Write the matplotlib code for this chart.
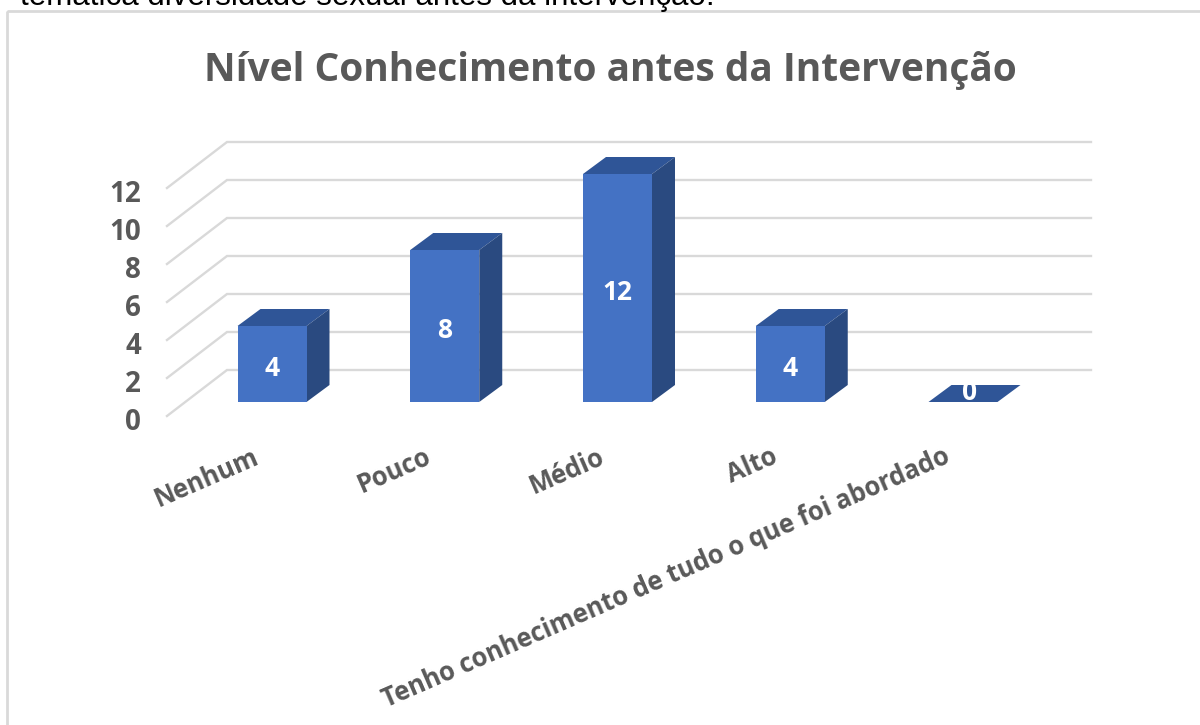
import matplotlib
matplotlib.use("Agg")
import matplotlib.pyplot as plt
from matplotlib.patches import Polygon, Rectangle

categories = ["Nenhum", "Pouco", "Médio", "Alto", "Tenho conhecimento de tudo o que foi abordado"]
values = [4, 8, 12, 4, 0]
y_ticks = [0, 2, 4, 6, 8, 10, 12]
title = "Nível Conhecimento antes da Intervenção"
caption = "temática diversidade sexual antes da intervenção."

W, H = 1200, 725
GRAY = "#595959"
FRONT, TOP, SIDE = "#4472C4", "#2F5597", "#2A4A80"
GRID = "#D9D9D9"
FONT = "Open Sans"

# scale: one category = 172.75 px, one value unit = 19 px; category 0 at x=272, value 0 at y=402
PX, PY = 172.75, 19.0
X0, Y0 = 272.0, 402.0
fig = plt.figure(figsize=(W / 100, H / 100), dpi=100)
ax = fig.add_axes([0, 0, 1, 1])
ax.set_xlim(-X0 / PX, (W - X0) / PX)
ax.set_ylim(-(H - Y0) / PY, Y0 / PY)
ax.axis("off")

def dx(p): return p / PX
def dy(p): return p / PY

# outer frame
ax.add_patch(Rectangle((dx(6.5 - X0), dy(Y0 - 10.5)), dx(1400), -dy(900), fill=False,
                       ec="#D9D9D9", lw=2.0, zorder=1))

# gridlines: back wall + receding floor/side diagonal
wall_rise = dy(32)
right = dx(1091 - X0)
back_x = dx(227 - X0)
front_x = dx(167 - X0)
front_drop = dy(46)
for v in y_ticks:
    yb = v + wall_rise
    ax.plot([front_x, back_x, right], [yb - front_drop, yb, yb], color=GRID, lw=1.7,
            solid_joinstyle="miter", zorder=2)
    ax.text(dx(141 - X0), yb - front_drop - dy(6), str(v), ha="right", va="center",
            fontsize=20, fontweight="bold", color=GRAY, family=FONT, zorder=6)

# 3D columns
half = dx(34.5)
ox, oy = dx(23), dy(17)
for i, (c, v) in enumerate(zip(categories, values)):
    l, r = i - half, i + half
    top = Polygon([(l, v), (r, v), (r + ox, v + oy), (l + ox, v + oy)], fc=TOP, ec="none", zorder=3)
    ax.add_patch(top)
    if v > 0:
        ax.add_patch(Polygon([(r, 0), (r + ox, oy), (r + ox, v + oy), (r, v)], fc=SIDE, ec="none", zorder=3))
        ax.add_patch(Rectangle((l, 0), r - l, v, fc=FRONT, ec="none", zorder=4))
    lab = ax.text(i + (dx(7) if v == 0 else 0), v / 2 - dy(4) if v else dy(9), str(v), ha="center", va="center",
                  fontsize=19, fontweight="bold", color="white", family=FONT, zorder=5)
    if v == 0:
        lab.set_clip_path(top)
        lab.set_clip_on(True)

# category labels, rotated
for i, c in enumerate(categories):
    ax.text(i - dx(20), -dy(41), c, ha="right", va="top", rotation=23.5, rotation_mode="anchor",
            fontsize=18.4, fontweight="bold", color=GRAY, family=FONT, zorder=6)

ax.text(dx(610.5 - X0), dy(Y0 - 71), title, ha="center", va="center", fontsize=28,
        fontweight="bold", color=GRAY, family=FONT, zorder=6)
ax.text(dx(20 - X0), dy(Y0 - 5), caption, ha="left", va="baseline", fontsize=22.5,
        color="black", family="Liberation Sans", zorder=6)

fig.savefig("out.png", dpi=100, facecolor="white")
